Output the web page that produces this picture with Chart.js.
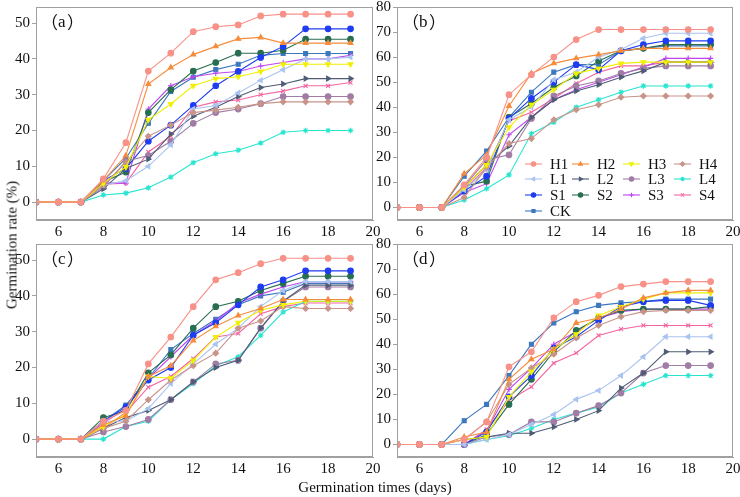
<!DOCTYPE html>
<html>
<head>
<meta charset="utf-8">
<script src="https://cdn.jsdelivr.net/npm/chart.js@4.4.0/dist/chart.umd.min.js"></script>
<style>
  body { margin: 0; background: #fff; width: 740px; height: 497px; position: relative; overflow: hidden; font-family: 'Liberation Serif', 'DejaVu Serif', 'Times New Roman', serif; color: #111; }
  .panel { position: absolute; }
  #ytitle { position: absolute; left: 12px; top: 245px; transform: translate(-50%, -50%) rotate(-90deg); font-size: 15px; white-space: nowrap; }
  #xtitle { position: absolute; left: 375px; top: 487px; transform: translate(-50%, -50%); font-size: 15px; white-space: nowrap; }
</style>
</head>
<body>
<canvas id="chartA" class="panel"></canvas>
<canvas id="chartB" class="panel"></canvas>
<canvas id="chartC" class="panel"></canvas>
<canvas id="chartD" class="panel"></canvas>
<div id="ytitle">Germination rate (%)</div>
<div id="xtitle">Germination times (days)</div>
<script>
// germination days
const days = [5, 6, 7, 8, 9, 10, 11, 12, 13, 14, 15, 16, 17, 18, 19];
const seriesNames = ['H1', 'H2', 'H3', 'H4', 'L1', 'L2', 'L3', 'L4', 'S1', 'S2', 'S3', 'S4', 'CK'];

// rows follow seriesNames order
const panelA = [
    [0, 0, 0, 6.5, 16.6, 36.6, 41.6, 47.6, 49, 49.5, 52, 52.5, 52.5, 52.5, 52.5],
    [0, 0, 0, 6, 13, 33, 37.6, 41.2, 43.5, 45.6, 46, 44.4, 44.4, 44.4, 44.4],
    [0, 0, 0, 5.3, 9.8, 23, 27.4, 32.5, 34.5, 35, 36.5, 38.5, 38.5, 38.5, 38.5],
    [0, 0, 0, 4.7, 11, 18.4, 21.5, 25, 25.7, 26.5, 27.5, 28, 28, 28, 28],
    [0, 0, 0, 4.7, 6, 10, 16, 26, 27, 30.5, 34, 37, 40, 40, 40.5],
    [0, 0, 0, 3.7, 9.4, 12, 19, 24, 26.5, 29.5, 32, 33, 34.5, 34.5, 34.5],
    [0, 0, 0, 4.2, 11.4, 13, 17, 22, 25, 26, 27.5, 29.5, 29.5, 29.5, 29.5],
    [0, 0, 0, 2, 2.5, 4, 7, 11, 13.5, 14.5, 16.5, 19.5, 20, 20, 20],
    [0, 0, 0, 6, 9.4, 17, 21.5, 27, 32.5, 36.5, 40.4, 43.5, 48.4, 48.4, 48.4],
    [0, 0, 0, 5.6, 8.4, 25, 31.4, 36.6, 39, 41.6, 41.6, 42.4, 45.5, 45.5, 45.5],
    [0, 0, 0, 5.3, 5.3, 26, 32.5, 35, 36, 36.5, 38, 39, 40, 40, 41],
    [0, 0, 0, 5, 5.3, 14, 18.4, 26.5, 28, 28.5, 30, 31, 32.5, 32.5, 33.4],
    [0, 0, 0, 6, 12.2, 22, 30.9, 34.9, 37, 38.5, 41, 41.5, 41.5, 41.5, 41.5]
];

const panelB = [
    [0, 0, 0, 9, 20, 45, 53, 60, 67, 71, 71, 71, 71, 71, 71],
    [0, 0, 0, 13.5, 21, 40.5, 53.5, 57.5, 59.5, 61, 62.5, 63.5, 63.5, 63.5, 63.5],
    [0, 0, 0, 8, 17, 32, 41, 47, 53.5, 55.5, 57.5, 58, 58, 58, 58],
    [0, 0, 0, 4, 16, 25.5, 27.5, 35, 39, 41, 44, 44.5, 44.5, 44.5, 44.5],
    [0, 0, 0, 7, 15, 35, 40, 51, 54, 60, 63, 67.5, 69.5, 69.5, 69.5],
    [0, 0, 0, 8, 17, 24.5, 36, 43, 46.5, 49, 52, 54.5, 58, 58, 58],
    [0, 0, 0, 8.5, 19, 21, 35.5, 44.5, 48.5, 50.5, 53.5, 55.5, 56.5, 56.5, 56.5],
    [0, 0, 0, 3, 7.5, 13, 29.5, 34, 40, 43, 46, 48.5, 48.5, 48.5, 48.5],
    [0, 0, 0, 6.5, 12.5, 35.5, 43.5, 50, 57, 55, 62.5, 65, 66.5, 66.5, 66.5],
    [0, 0, 0, 8.5, 10.5, 36, 41.5, 48, 52.5, 58.5, 62.5, 63.5, 65, 65, 65],
    [0, 0, 0, 6, 9.5, 29, 36, 43, 47, 50, 53, 56, 59.5, 59.5, 59.5],
    [0, 0, 0, 7, 16, 34.5, 38, 43.5, 49.5, 54, 56.5, 56.5, 58, 58, 58],
    [0, 0, 0, 12.5, 22.5, 36, 46, 54, 57, 57, 62.5, 63.5, 64.5, 64.5, 64.5]
];

const panelC = [
    [0, 0, 0, 5, 8, 21, 28.5, 37, 44.5, 46.5, 49, 50.5, 50.5, 50.5, 50.5],
    [0, 0, 0, 4, 6.5, 17.5, 20.5, 27.5, 31.5, 34.5, 36.5, 39, 39, 39, 39],
    [0, 0, 0, 3.5, 7, 17.5, 17, 22, 28.5, 32.5, 36, 37.5, 38.5, 38.5, 38.5],
    [0, 0, 0, 3, 5, 11, 16.5, 20.5, 24, 31, 33, 37, 36.5, 36.5, 36.5],
    [0, 0, 0, 5, 5, 8.5, 15.5, 21, 26.5, 31, 37, 41.5, 44, 44, 44],
    [0, 0, 0, 3, 6, 8, 11, 16, 20, 22, 31, 38.5, 43, 43, 43],
    [0, 0, 0, 2, 3.5, 5.5, 11, 16, 21, 22, 31, 38.5, 42.5, 42.5, 42.5],
    [0, 0, 0, 0, 3.5, 5, 11, 15.5, 20.5, 23, 29, 35.5, 38.5, 38.5, 38.5],
    [0, 0, 0, 5, 9, 16.5, 20, 29, 32.5, 37.5, 42.5, 44.5, 47, 47, 47],
    [0, 0, 0, 6, 8, 18.5, 23.5, 31, 37, 38.5, 41.5, 43.5, 45.5, 45.5, 45.5],
    [0, 0, 0, 4.5, 8.5, 17, 23, 29, 33, 38, 40.5, 42.5, 44, 44, 44],
    [0, 0, 0, 3, 7.5, 14.5, 17.5, 22.5, 28.5, 29.5, 35, 37, 38, 38, 38],
    [0, 0, 0, 5, 9.5, 17, 25, 29.5, 33.5, 37.5, 40, 41, 43.5, 43.5, 43.5]
];

const panelD = [
    [0, 0, 0, 2, 9, 31, 37, 50.5, 57, 59.5, 63, 64, 65, 65, 65],
    [0, 0, 0, 3, 5, 26, 34, 38, 48.5, 50.5, 54, 58.5, 60.5, 61.5, 61.5],
    [0, 0, 0, 2, 3, 19, 29, 38, 44, 51.5, 55, 58, 60.5, 60.5, 60.5],
    [0, 0, 0, 2, 9, 24, 30.5, 36, 42.5, 47.5, 51, 53, 53.5, 53.5, 53.5],
    [0, 0, 0, 0, 2, 4, 8, 12, 18, 21.5, 27.5, 35, 43, 43, 43],
    [0, 0, 0, 2, 3, 4.5, 4.5, 7, 10, 13.5, 22.5, 28.5, 37, 37, 37],
    [0, 0, 0, 0, 3, 4, 9, 9, 12.5, 15.5, 20.5, 28.5, 31.5, 31.5, 31.5],
    [0, 0, 0, 0, 2, 3.5, 6.5, 10, 12.5, 15, 20.5, 24, 27.5, 27.5, 27.5],
    [0, 0, 0, 0, 5, 19, 27.5, 38.5, 43, 49.5, 55, 57, 57.5, 57.5, 55.5],
    [0, 0, 0, 0, 4, 16, 26, 37, 45.5, 50.5, 53.5, 54, 54, 54, 55],
    [0, 0, 0, 0, 5.5, 22, 30.5, 40, 45, 50.5, 53, 54, 54, 54, 54],
    [0, 0, 0, 0, 6, 17.5, 23, 32.5, 36.5, 43.5, 46, 47.5, 47.5, 47.5, 47.5],
    [0, 0, 0, 9.5, 16, 27.5, 40, 48.5, 53, 55.5, 56.5, 57, 58, 58, 58]
];

const colors = [
    'rgb(248,145,135)', 'rgb(245,140,60)', 'rgb(240,240,0)', 'rgb(200,148,138)',
    'rgb(170,196,240)', 'rgb(78,92,118)', 'rgb(160,125,165)', 'rgb(40,228,208)',
    'rgb(30,60,240)', 'rgb(40,110,80)', 'rgb(190,70,240)', 'rgb(245,100,160)',
    'rgb(60,120,190)'
];
const markers = ['circle', 'triangle', 'triangle', 'rectRot', 'triangle', 'triangle', 'circle', 'star', 'circle', 'circle', 'cross', 'crossRot', 'rect'];
const rotations = [0, 0, 180, 0, -90, 90, 0, 0, 0, 0, 0, 0, 0];

const serif = "'Liberation Serif', 'DejaVu Serif', 'Times New Roman', serif";

function makeDatasets(rows) {
    return rows.map(function(vals, i) {
        return {
            label: seriesNames[i],
            data: vals.map(function(v, k) { return { x: days[k], y: v }; }),
            borderColor: colors[i],
            backgroundColor: colors[i],
            pointBackgroundColor: colors[i],
            pointBorderColor: colors[i],
            borderWidth: 1.1,
            pointStyle: markers[i],
            pointRotation: rotations[i],
            pointRadius: 2.8,
            pointBorderWidth: 1.1,
            tension: 0
        };
    });
}

// frame around chart area + panel letter
const framePlugin = {
    id: 'frame',
    afterDraw: function(chart, args, opts) {
        const a = chart.chartArea;
        const ctx = chart.ctx;
        ctx.save();
        ctx.strokeStyle = '#a0a0a0';
        ctx.lineWidth = 1;
        ctx.strokeRect(a.left + 0.5, a.top + 0.5, a.right - a.left - 1, a.bottom - a.top - 1);
        ctx.fillStyle = '#111';
        ctx.font = "17px 'Noto Sans CJK SC', sans-serif";
        ctx.textBaseline = 'middle';
        ctx.fillText('（', a.left + 5, a.top + 16);
        ctx.font = '17px ' + serif;
        ctx.fillText(opts.letter, a.left + 22, a.top + 16);
        ctx.font = "17px 'Noto Sans CJK SC', sans-serif";
        ctx.fillText('）', a.left + 22 + ctx.measureText('').width + (opts.letter === 'b' || opts.letter === 'd' ? 10 : 9), a.top + 16);
        ctx.restore();
    }
};

// legend placed inside panel (b)
const legendPlugin = {
    id: 'cornerLegend',
    afterDraw: function(chart, args, opts) {
        if (!opts.show) return;
        const a = chart.chartArea;
        const ctx = chart.ctx;
        const colX = [128, 175, 226, 277];
        const rowY = [157, 172, 188, 204];
        ctx.save();
        seriesNames.forEach(function(name, i) {
            const x0 = a.left + colX[i % 4];
            const y = a.top + rowY[Math.floor(i / 4)];
            ctx.strokeStyle = colors[i];
            ctx.fillStyle = colors[i];
            ctx.lineWidth = 1.1;
            ctx.beginPath();
            ctx.moveTo(x0, y);
            ctx.lineTo(x0 + 17, y);
            ctx.stroke();
            Chart.helpers.drawPoint(ctx, { pointStyle: markers[i], rotation: rotations[i], radius: 2.2, borderWidth: 1 }, x0 + 8.5, y);
            ctx.fillStyle = '#111';
            ctx.font = '15px ' + serif;
            ctx.textBaseline = 'middle';
            ctx.fillText(name, x0 + 25, y + 1);
        });
        ctx.restore();
    }
};

const PAD_L = 30, PAD_T = 10, PAD_R = 12, PAD_B = 24;

function makePanel(id, rows, area, yMax, yStep, letter, showLegend) {
    const cv = document.getElementById(id);
    const w = area.r - area.l + PAD_L + PAD_R;
    const h = area.b - area.t + PAD_T + PAD_B;
    cv.width = w;
    cv.height = h;
    cv.style.width = w + 'px';
    cv.style.height = h + 'px';
    cv.style.left = (area.l - PAD_L) + 'px';
    cv.style.top = (area.t - PAD_T) + 'px';

    new Chart(cv.getContext('2d'), {
        type: 'line',
        data: { datasets: makeDatasets(rows) },
        options: {
            responsive: false,
            animation: false,
            layout: { padding: { top: PAD_T, right: PAD_R, left: 0, bottom: 0 } },
            plugins: {
                legend: { display: false },
                tooltip: { enabled: false },
                frame: { letter: letter },
                cornerLegend: { show: showLegend }
            },
            scales: {
                x: {
                    type: 'linear',
                    min: 5,
                    max: 20,
                    afterFit: function(s) { s.height = PAD_B; },
                    grid: { display: true, drawOnChartArea: false, drawTicks: false, color: '#a0a0a0' },
                    border: { display: true, color: '#a0a0a0' },
                    ticks: {
                        stepSize: 2,
                        includeBounds: false,
                        padding: 3,
                        color: '#111',
                        font: { family: serif, size: 15 }
                    }
                },
                y: {
                    min: -5,
                    max: yMax,
                    afterFit: function(s) { s.width = PAD_L; },
                    grid: { display: true, drawOnChartArea: false, drawTicks: true, tickLength: 4, color: '#a0a0a0' },
                    border: { display: true, color: '#a0a0a0' },
                    ticks: {
                        stepSize: yStep,
                        includeBounds: false,
                        padding: 2,
                        color: '#111',
                        font: { family: serif, size: 15 }
                    }
                }
            }
        },
        plugins: [framePlugin, legendPlugin]
    });
}

makePanel('chartA', panelA, { l: 36, t: 6, r: 373, b: 220 }, 54.5, 10, 'a', false);
makePanel('chartB', panelB, { l: 397, t: 6, r: 733, b: 220 }, 80, 10, 'b', true);
makePanel('chartC', panelC, { l: 36, t: 243, r: 373, b: 457 }, 54.5, 10, 'c', false);
makePanel('chartD', panelD, { l: 397, t: 243, r: 733, b: 457 }, 80, 10, 'd', false);
</script>
</body>
</html>
